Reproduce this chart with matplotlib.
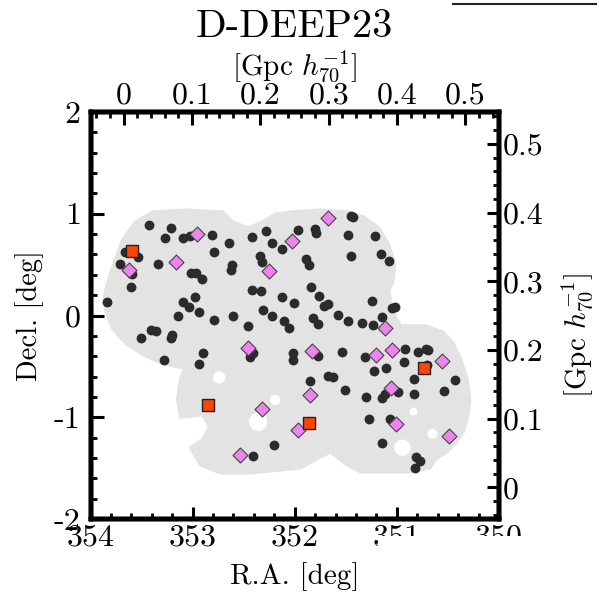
import matplotlib
matplotlib.use("Agg")
import matplotlib.pyplot as plt
from matplotlib.patches import Polygon, Circle, Rectangle
from matplotlib.lines import Line2D
from matplotlib.ticker import MultipleLocator, FuncFormatter

plt.rcParams.update({
    "font.family": "serif",
    "font.serif": ["cmr10", "DejaVu Serif"],
    "mathtext.fontset": "cm",
    "axes.unicode_minus": False,
    "axes.formatter.use_mathtext": True,
})

# --- survey footprint outline (R.A., Decl.) ---
foot_ra = [353.392, 353.069, 352.706, 352.608, 352.452, 352.314, 352.187, 352.040,
           351.746, 351.482, 351.325, 351.178, 351.080, 351.022, 351.041, 351.080,
           351.061, 351.012, 350.963, 350.718, 350.551, 350.453, 350.375, 350.316,
           350.287, 350.307, 350.356, 350.424, 350.522, 350.620, 350.679, 350.865,
           351.355, 351.501, 351.648, 351.766, 351.942, 352.138, 352.432, 352.726,
           352.922, 353.020, 352.902, 352.833, 352.902, 353.118, 353.147, 353.118,
           353.078, 353.313, 353.490, 353.656, 353.784, 353.852, 353.862, 353.823,
           353.774, 353.686, 353.558]
foot_dec = [1.016, 1.035, 1.016, 0.918, 0.859, 0.918, 0.996, 1.016,
            1.035, 1.016, 0.967, 0.859, 0.692, 0.496, 0.329, 0.250,
            0.123, -0.025, -0.103, -0.103, -0.162, -0.270, -0.437, -0.613,
            -0.829, -0.996, -1.153, -1.251, -1.349, -1.408, -1.497, -1.536,
            -1.536, -1.457, -1.340, -1.398, -1.497, -1.516, -1.546, -1.546,
            -1.467, -1.300, -1.222, -1.094, -0.976, -0.996, -0.829, -0.633,
            -0.515, -0.466, -0.378, -0.270, -0.123, 0.054, 0.201, 0.348,
            0.496, 0.741, 0.918]

# masked holes inside the footprint
hole_ra = [352.740, 352.358, 352.192, 350.946, 350.652, 350.838]
hole_dec = [-0.608, -1.045, -0.829, -1.300, -1.163, -0.944]
hole_r = [0.06, 0.09, 0.05, 0.08, 0.05, 0.04]

# galaxies (black dots)
gal_ra = [353.428, 353.213, 353.274, 353.095, 353.029, 352.811, 352.644, 352.791,
          352.419, 352.285, 352.219, 352.128, 353.666, 353.532, 353.712, 353.591,
          353.336, 352.611, 352.628, 352.344, 352.317, 353.013, 352.971, 352.912,
          353.607, 353.839, 352.415, 352.327, 352.128, 352.977, 353.095, 353.036,
          353.144, 352.934, 352.791, 352.608, 352.454, 352.308, 352.219, 352.106,
          353.411, 353.362, 353.199, 353.215, 353.509, 352.902, 353.284, 352.934,
          352.442, 352.407, 352.204, 352.409, 351.452, 351.433, 351.969, 351.802,
          351.795, 351.479, 351.217, 351.893, 351.861, 351.450, 351.152, 351.077,
          351.837, 352.008, 351.759, 351.714, 351.675, 351.240, 351.044, 351.022,
          351.577, 352.057, 351.822, 351.773, 351.475, 351.345, 351.230, 351.142,
          352.014, 352.014, 351.773, 351.534, 351.309, 350.924, 350.789, 350.718,
          350.695, 351.224, 351.110, 350.930, 351.851, 351.671, 351.626, 351.508,
          351.303, 351.142, 351.120, 350.989, 350.833, 350.833, 350.434, 350.539,
          351.276, 351.068, 351.149, 350.816, 350.774, 350.823, 350.701]
gal_dec = [0.888, 0.862, 0.758, 0.758, 0.783, 0.790, 0.709, 0.626,
           0.773, 0.829, 0.709, 0.653, 0.626, 0.571, 0.505, 0.407,
           0.505, 0.496, 0.447, 0.584, 0.528, 0.420, 0.414, 0.355,
           0.283, 0.135, 0.250, 0.240, 0.184, 0.179, 0.135, 0.086,
           -0.002, 0.037, -0.044, -0.005, -0.100, 0.054, -0.002, -0.051,
           -0.142, -0.152, -0.191, -0.224, -0.224, -0.368, -0.437, -0.479,
           -0.412, -0.368, -1.268, -1.376, 0.979, 0.964, 0.839, 0.846,
           0.813, 0.790, 0.780, 0.554, 0.496, 0.581, 0.604, 0.538,
           0.277, 0.126, 0.191, 0.093, 0.113, 0.142, 0.077, 0.086,
           0.005, -0.126, -0.027, -0.086, -0.054, -0.077, -0.093, -0.012,
           -0.371, -0.437, -0.397, -0.355, -0.404, -0.329, -0.355, -0.332,
           -0.339, -0.545, -0.515, -0.459, -0.646, -0.591, -0.606, -0.728,
           -0.797, -0.807, -0.767, -0.754, -0.626, -0.770, -0.633, -0.741,
           -1.016, -1.013, -1.251, -1.386, -1.428, -1.497, -0.486]

# diamonds
dia_ra = [353.627, 353.164, 352.961, 352.249, 352.024, 351.675, 351.119, 351.834,
          351.201, 351.044, 350.554, 351.054, 351.847, 351.012, 351.969, 350.493,
          352.454, 352.317, 352.537]
dia_dec = [0.444, 0.525, 0.803, 0.434, 0.734, 0.957, -0.126, -0.345,
           -0.388, -0.339, -0.444, -0.714, -0.783, -1.068, -1.124, -1.180,
           -0.316, -0.918, -1.369]

# squares
sq_ra = [353.591, 352.846, 351.864, 350.737]
sq_dec = [0.630, -0.875, -1.058, -0.512]

# comoving-distance axes: zero point and Gpc per degree
ra_zero, gpc_per_deg_ra = 353.675, 0.1495
dec_zero, gpc_per_deg_dec = -1.690, 0.1481

ra_lim = (354, 350)
dec_lim = (-2, 2)

fig = plt.figure(figsize=(5.97, 5.98), dpi=100, facecolor="white")
ax = fig.add_axes([0.1516, 0.1321, 0.6843, 0.6806])

ax.add_patch(Polygon(list(zip(foot_ra, foot_dec)), closed=True,
                     facecolor="#e3e3e3", edgecolor="#e3e3e3", lw=2.5, zorder=1))
for r, d, rad in zip(hole_ra, hole_dec, hole_r):
    ax.add_patch(Circle((r, d), rad, facecolor="white", edgecolor="none", zorder=1.5))

ax.scatter(gal_ra, gal_dec, s=50, color="#2b2b2b", linewidths=0, zorder=3)
ax.scatter(dia_ra, dia_dec, s=58, marker="D", facecolor="violet",
           edgecolor="#444444", linewidths=0.8, zorder=4)
ax.scatter(sq_ra, sq_dec, s=68, marker="s", facecolor="orangered",
           edgecolor="#222222", linewidths=1.0, zorder=5)

ax.set_xlim(*ra_lim)
ax.set_ylim(*dec_lim)
ax.xaxis.set_major_locator(MultipleLocator(1))
ax.xaxis.set_minor_locator(MultipleLocator(0.2))
ax.yaxis.set_major_locator(MultipleLocator(1))
ax.yaxis.set_minor_locator(MultipleLocator(0.2))
fmt = FuncFormatter(lambda v, p: f"{v:g}")
ax.xaxis.set_major_formatter(fmt)
ax.yaxis.set_major_formatter(fmt)

for s in ax.spines.values():
    s.set_linewidth(3.2)

ax.tick_params(which="both", direction="in", top=False, right=False, labelsize=23)
ax.tick_params(which="major", length=9, width=2.2)
ax.tick_params(which="minor", length=4.5, width=2)
ax.tick_params(axis="x", pad=4)
ax.tick_params(axis="y", pad=7)

ax.set_xlabel("R.A. [deg]", fontsize=21)
ax.xaxis.set_label_coords(0.5, -0.1425)
ax.xaxis.label.set_va("center")
ax.set_ylabel("Decl. [deg]", fontsize=20.5)
ax.yaxis.set_label_coords(-0.148, 0.501)
ax.yaxis.label.set_va("center")

# top axis in Gpc
axt = ax.twiny()
axt.set_xlim((ra_zero - ra_lim[0]) * gpc_per_deg_ra, (ra_zero - ra_lim[1]) * gpc_per_deg_ra)
axt.xaxis.set_major_locator(MultipleLocator(0.1))
axt.xaxis.set_minor_locator(MultipleLocator(0.02))
axt.xaxis.set_major_formatter(fmt)
axt.tick_params(which="both", direction="in", labelsize=23, pad=2)
axt.tick_params(which="major", length=9, width=2.2)
axt.tick_params(which="minor", length=4.5, width=2)
axt.set_xlabel(r"[Gpc $h_{70}^{-1}$]", fontsize=21)
axt.xaxis.set_label_coords(0.5, 1.112)
axt.xaxis.label.set_va("center")

# right axis in Gpc
axr = ax.twinx()
axr.set_ylim((dec_lim[0] - dec_zero) * gpc_per_deg_dec, (dec_lim[1] - dec_zero) * gpc_per_deg_dec)
axr.yaxis.set_major_locator(MultipleLocator(0.1))
axr.yaxis.set_minor_locator(MultipleLocator(0.02))
axr.yaxis.set_major_formatter(fmt)
axr.tick_params(which="both", direction="in", labelsize=23, pad=3)
axr.tick_params(which="major", length=9, width=2.2)
axr.tick_params(which="minor", length=4.5, width=2)
axr.set_ylabel(r"[Gpc $h_{70}^{-1}$]", fontsize=21, rotation=90)
axr.yaxis.set_label_coords(1.19, 0.450)
axr.yaxis.label.set_va("center")

for a in (axt, axr):
    for s in a.spines.values():
        s.set_linewidth(3.2)

fig.text(294.7 / 597, 1 - 27 / 598, "D-DEEP23", fontsize=29, ha="center", va="center")

# bits of neighbouring panel / cropping seen in the source image
fig.add_artist(Line2D([453 / 597, 1.0], [1 - 4 / 598] * 2, color="#222222", lw=1.5))
fig.add_artist(Rectangle((378 / 597, 1 - 560 / 598), (597 - 378) / 597, 24 / 598,
                         transform=fig.transFigure, facecolor="white",
                         edgecolor="none", zorder=10))

fig.savefig("out.png", dpi=100, facecolor="white")
